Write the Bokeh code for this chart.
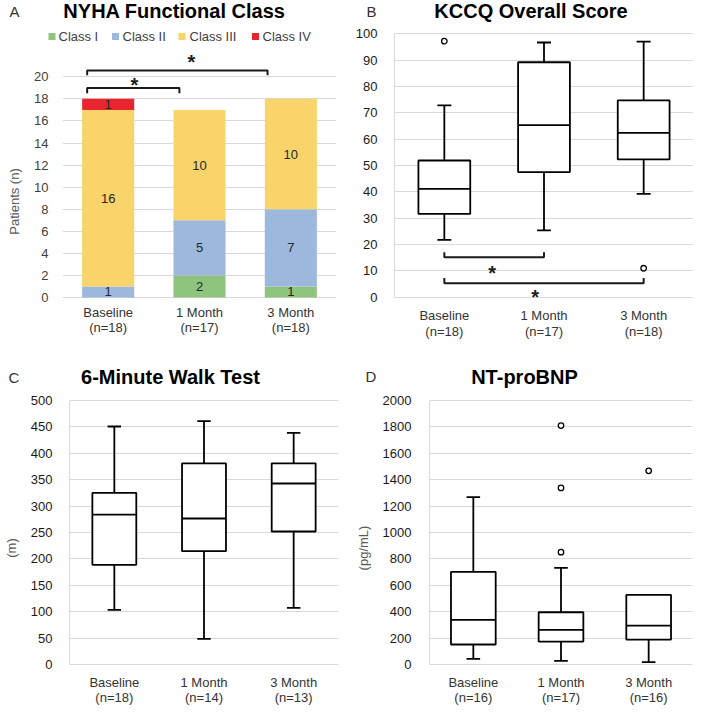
import numpy as np
from bokeh.plotting import figure
from bokeh.models import Range1d, Label, FixedTicker, ColumnDataSource
from bokeh.layouts import column, row
from bokeh.embed import file_html
from bokeh.resources import INLINE
from bokeh.core.properties import value

# ---------------- data ----------------
categories = ["Baseline", "1 Month", "3 Month"]

# A: NYHA functional class (stacked counts)
nyha_n = [18, 17, 18]
nyha_class_names = ["Class I", "Class II", "Class III", "Class IV"]
nyha_class1 = [0, 2, 1]
nyha_class2 = [1, 5, 7]
nyha_class3 = [16, 10, 10]
nyha_class4 = [1, 0, 0]
nyha_colors = ["#8fc47e", "#9db8dd", "#f8d46a", "#e9262f"]
nyha_ticks = [0, 2, 4, 6, 8, 10, 12, 14, 16, 18, 20]

# B: KCCQ overall score (box plot summary)
kccq_n = [18, 17, 18]
kccq_low = [21.8, 25.4, 39.2]
kccq_q1 = [31.6, 47.5, 52.3]
kccq_med = [41.1, 65.3, 62.4]
kccq_q3 = [51.9, 89.2, 74.7]
kccq_high = [72.8, 96.7, 97.0]
kccq_out_x = [0, 2]
kccq_out_y = [97.2, 11.0]
kccq_ticks = [0, 10, 20, 30, 40, 50, 60, 70, 80, 90, 100]

# C: 6-minute walk test (m)
walk_n = [18, 14, 13]
walk_low = [103.5, 48.6, 107.3]
walk_q1 = [188.8, 214.6, 251.9]
walk_med = [284.0, 276.5, 342.8]
walk_q3 = [325.0, 381.0, 381.0]
walk_high = [450.8, 460.9, 438.8]
walk_ticks = [0, 50, 100, 150, 200, 250, 300, 350, 400, 450, 500]

# D: NT-proBNP (pg/mL)
bnp_n = [16, 17, 16]
bnp_low = [43, 28, 18]
bnp_q1 = [151.5, 174, 189]
bnp_med = [338, 263, 295]
bnp_q3 = [702, 396, 528]
bnp_high = [1268, 732, 528]
bnp_out_x = [1, 1, 1, 2]
bnp_out_y = [1810, 1338, 851, 1467]
bnp_ticks = [0, 200, 400, 600, 800, 1000, 1200, 1400, 1600, 1800, 2000]

FONT = "Liberation Sans"
TXT = "#333333"
GRID = "#d9d9d9"

WL, WR = 352, 341          # column widths
HT, HB = 358, 347          # row heights


def no_align(p):
    try:
        p.frame_align = False
    except Exception:
        pass


def header(w, h):
    """A strip whose frame is the whole strip; y measured in pixels from the top."""
    p = figure(width=w, height=h, x_range=Range1d(0, w), y_range=Range1d(h, 0),
               x_axis_type=None, y_axis_type=None, output_backend="svg",
               toolbar_location=None, title=None, min_border=0,
               min_border_left=0, min_border_right=0, min_border_top=0, min_border_bottom=0)
    p.outline_line_color = None
    p.grid.visible = False
    no_align(p)
    return p


def htext(p, x, y, text, size="13px", bold=False, color=TXT, align="left"):
    p.add_layout(Label(x=x, y=y, text=text, text_font=FONT, text_font_size=size,
                       text_font_style="bold" if bold else "normal", text_color=color,
                       text_align=align, text_baseline="middle"))


class Panel:
    def __init__(self, w, h, L, R, va, pa, vb, pb, ticks, standoff, axis_line, tick_color,
                 ylabel=None, ylabel_standoff=5):
        self.L, self.R, self.h = L, R, h
        self.k = (vb - va) / (pa - pb)          # data units per pixel (upwards)
        self.va, self.pa = va, pa
        y0 = va - (h - pa) * self.k
        y1 = va + pa * self.k
        p = figure(width=w, height=h, x_range=Range1d(-0.5, 2.5), y_range=Range1d(y0, y1),
                   x_axis_type=None, output_backend="svg", toolbar_location=None,
                   title=None, min_border_left=L, min_border_right=w - R,
                   min_border_top=0, min_border_bottom=0)
        no_align(p)
        p.outline_line_color = None
        p.background_fill_color = "white"
        p.border_fill_color = "white"
        ax = p.yaxis[0]
        ax.ticker = FixedTicker(ticks=ticks)
        ax.bounds = (ticks[0], ticks[-1])
        ax.major_tick_line_color = None
        ax.minor_tick_line_color = None
        ax.axis_line_color = axis_line
        ax.major_label_standoff = standoff
        ax.major_label_text_font = FONT
        ax.major_label_text_font_size = "13px"
        ax.major_label_text_color = tick_color
        if ylabel:
            ax.axis_label = ylabel
            ax.axis_label_text_font = FONT
            ax.axis_label_text_font_size = "13px"
            ax.axis_label_text_font_style = "normal"
            ax.axis_label_text_color = "#595959"
            ax.axis_label_standoff = ylabel_standoff
        p.ygrid.ticker = FixedTicker(ticks=ticks)
        p.ygrid.grid_line_color = GRID
        p.ygrid.grid_line_width = 1
        self.p = p

    def fy(self, py):
        return self.va + (self.pa - py) * self.k

    def py(self, v):
        return self.pa - (v - self.va) / self.k

    def text(self, x, py, text, size="13px", bold=False, color=TXT, align="center"):
        self.p.add_layout(Label(x=x, y=self.fy(py), text=text, text_font=FONT,
                                text_font_size=size,
                                text_font_style="bold" if bold else "normal",
                                text_color=color, text_align=align, text_baseline="middle"))

    def star(self, x, v):
        # visual centre of a bold asterisk sits ~4.4px above the text's middle anchor
        self.text(x, self.py(v) + 4.4, "*", size="20px", bold=True, color="#1a1a1a")

    def cat_labels(self, ns, py1, py2):
        for i, (c, n) in enumerate(zip(categories, ns)):
            self.text(i, py1, c)
            self.text(i, py2, "(n=%d)" % n)


def boxplot(pn, low, q1, med, q3, high, out_x, out_y, box_w, cap_w):
    p = pn.p
    xs = list(range(len(categories)))
    lw = 1.8
    p.segment(xs, low, xs, q1, line_color="black", line_width=lw)
    p.segment(xs, q3, xs, high, line_color="black", line_width=lw)
    p.segment([x - cap_w / 2 for x in xs], low, [x + cap_w / 2 for x in xs], low,
              line_color="black", line_width=lw)
    p.segment([x - cap_w / 2 for x in xs], high, [x + cap_w / 2 for x in xs], high,
              line_color="black", line_width=lw)
    p.vbar(x=xs, width=box_w, bottom=q1, top=q3, fill_color="white",
           line_color="black", line_width=lw)
    p.segment([x - box_w / 2 for x in xs], med, [x + box_w / 2 for x in xs], med,
              line_color="black", line_width=lw)
    if out_x:
        p.scatter(out_x, out_y, marker="circle", size=5.5, fill_color="white",
                  line_color="black", line_width=1.3)


def bracket(p, xa, xb, y, tip):
    p.line([xa, xa, xb, xb], [tip, y, y, tip], line_color="#1a1a1a", line_width=2)


# ---------------- Panel A ----------------
hA_h = 44
hA = header(WL, hA_h)
htext(hA, 9, 11, "A", size="15px")
htext(hA, 174, 10.5, "NYHA Functional Class", size="20px", bold=True, color="black", align="center")
leg_swatch_x = [51.5, 115, 181.5, 255]
leg_text_x = [58, 122, 189, 262]
hA.rect(x=leg_swatch_x, y=[36] * 4, width=7, height=7, fill_color=nyha_colors, line_color=None)
for tx, name in zip(leg_text_x, nyha_class_names):
    htext(hA, tx, 36, name, size="13px", color="#404040")

A = Panel(WL, HT - hA_h, 62, 336, 0, 253, 20, 32.3, nyha_ticks, 8, None, "#404040",
          ylabel="Patients (n)", ylabel_standoff=9)
pa = A.p
src = ColumnDataSource(dict(x=list(range(3)), c1=nyha_class1, c2=nyha_class2,
                            c3=nyha_class3, c4=nyha_class4))
rs = pa.vbar_stack(["c1", "c2", "c3", "c4"], x="x", width=0.57, fill_color=nyha_colors,
                   line_color=None, source=src)
stack = [nyha_class1, nyha_class2, nyha_class3, nyha_class4]
lx, ly, lt = [], [], []
for i in range(3):
    bottom = 0
    for cls in stack:
        v = cls[i]
        if v > 0:
            lx.append(i)
            ly.append(bottom + v / 2)
            lt.append(str(v))
        bottom += v
pa.text(x=lx, y=ly, text=lt, text_font=value(FONT), text_font_size="13px",
        text_align="center", text_baseline="middle", text_color="#262626")
bracket(pa, -0.23, 0.78, 18.98, 18.5)
bracket(pa, -0.23, 1.745, 20.57, 20.15)
A.star(0.288, 19.67)
A.star(0.91, 21.7)
A.cat_labels(nyha_n, 268, 283)

# ---------------- Panel B ----------------
hB_h = 22
hB = header(WR, hB_h)
htext(hB, 14, 11, "B", size="15px")
htext(hB, 178.5, 10.5, "KCCQ Overall Score", size="20px", bold=True, color="black", align="center")

B = Panel(WR, HT - hB_h, 41, 341, 0, 274.7, 100, 11.3, kccq_ticks, 11, GRID, "#1a1a1a")
boxplot(B, kccq_low, kccq_q1, kccq_med, kccq_q3, kccq_high, kccq_out_x, kccq_out_y, 0.52, 0.14)
bracket(B.p, 0.0, 1.0, 15.2, 17.1)
bracket(B.p, 0.0, 2.0, 5.3, 7.3)
B.star(0.48, 11.0)
B.star(0.91, 1.6)
B.cat_labels(kccq_n, 293, 309)

# ---------------- Panel C ----------------
hC_h = 32
hC = header(WL, hC_h)
htext(hC, 8, 19, "C", size="15px")
htext(hC, 170, 18, "6-Minute Walk Test", size="20px", bold=True, color="black", align="center")

C = Panel(WL, HB - hC_h, 58, 338, 0, 274, 500, 10, walk_ticks, 11, GRID, "#1a1a1a",
          ylabel="(m)", ylabel_standoff=9)
boxplot(C, walk_low, walk_q1, walk_med, walk_q3, walk_high, [], [], 0.49, 0.15)
C.cat_labels(walk_n, 292, 307)

# ---------------- Panel D ----------------
hD = header(WR, hC_h)
htext(hD, 13, 18, "D", size="15px")
htext(hD, 172, 18, "NT-proBNP", size="20px", bold=True, color="black", align="center")

D = Panel(WR, HB - hC_h, 69, 340, 0, 274, 2000, 10, bnp_ticks, 12, GRID, "#1a1a1a",
          ylabel="(pg/mL)", ylabel_standoff=9)
boxplot(D, bnp_low, bnp_q1, bnp_med, bnp_q3, bnp_high, bnp_out_x, bnp_out_y, 0.51, 0.155)
D.cat_labels(bnp_n, 292, 307)

layout = column(row(column(hA, A.p), column(hB, B.p)),
                row(column(hC, C.p), column(hD, D.p)))
open("out.html", "w").write(file_html(layout, INLINE))
